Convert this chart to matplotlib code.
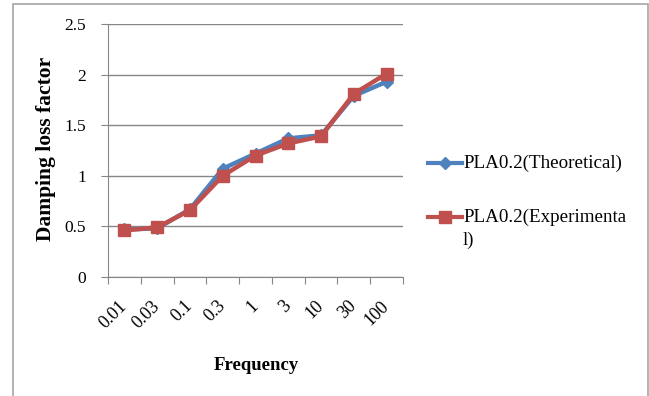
import matplotlib.pyplot as plt
from matplotlib.lines import Line2D
from matplotlib.patches import Rectangle
import numpy as np

plt.rcParams['font.family'] = ['Liberation Serif', 'DejaVu Serif']

# data
freq = ['0.01', '0.03', '0.1', '0.3', '1', '3', '10', '30', '100']
theoretical = [0.47, 0.48, 0.67, 1.07, 1.22, 1.37, 1.40, 1.79, 1.93]
experimental = [0.46, 0.49, 0.66, 1.00, 1.20, 1.32, 1.39, 1.81, 2.01]

blue = '#4F81BD'
red = '#C0504D'
grid_c = '#868686'

W, H = 649, 396
fig = plt.figure(figsize=(W / 100, H / 100), dpi=100)
ax = fig.add_axes([108 / W, 1 - 277 / H, 295 / W, 253 / H])

x = np.arange(len(freq))
ax.plot(x, theoretical, color=blue, lw=3.2, marker='D', ms=6,
        mfc=blue, mec=blue, zorder=3)
ax.plot(x, experimental, color=red, lw=3.2, marker='s', ms=8,
        mfc=red, mec=red, zorder=4)

ax.set_xlim(-0.5, len(freq) - 0.5)
ax.set_ylim(0, 2.5)
ax.set_yticks(np.arange(0, 2.51, 0.5))
ax.set_yticklabels(['0', '0.5', '1', '1.5', '2', '2.5'])
ax.yaxis.grid(True, color=grid_c, lw=1)
ax.set_axisbelow(True)

# category boundaries as ticks, labels at centers
ax.set_xticks(np.arange(-0.5, len(freq)), labels=[''] * (len(freq) + 1))
ax.set_xticks(x, labels=freq, minor=True)
ax.tick_params(axis='x', which='major', length=5, color=grid_c, direction='out')
ax.tick_params(axis='x', which='minor', length=0, pad=19, labelsize=13)
ax.tick_params(axis='y', length=5, color=grid_c, pad=11, labelsize=12.5)
for lab in ax.get_xticklabels(minor=True):
    lab.set_rotation(45)
    lab.set_ha('right')
    lab.set_va('center')
    lab.set_rotation_mode('anchor')

for s in ['top', 'right']:
    ax.spines[s].set_visible(False)
for s in ['left', 'bottom']:
    ax.spines[s].set_color(grid_c)

ax.set_xlabel('Frequency', fontsize=13.5, fontweight='bold')
ax.xaxis.set_label_coords(0.502, -0.348)
ax.xaxis.label.set_va('center')
ax.set_ylabel('Damping loss factor', fontsize=15.5, fontweight='bold')
ax.yaxis.set_label_coords(-0.21, 0.506)
ax.yaxis.label.set_va('center')

# legend drawn by hand to copy the wrapped label
def legend_entry(y, color, marker, ms):
    fy = 1 - y / H
    fig.add_artist(Line2D([428 / W, 462 / W], [fy, fy], color=color, lw=3,
                          transform=fig.transFigure))
    fig.add_artist(Line2D([445 / W], [fy], color=color, marker=marker, ms=ms,
                          transform=fig.transFigure))

legend_entry(163, blue, 'D', 6)
fig.text(463 / W, 1 - 163 / H, 'PLA0.2(Theoretical)', fontsize=13.7, va='center')
legend_entry(217, red, 's', 8)
fig.text(463 / W, 1 - 217 / H, 'PLA0.2(Experimenta', fontsize=13.7, va='center')
fig.text(463 / W, 1 - 240 / H, 'l)', fontsize=13.7, va='center')

# chart border
fig.add_artist(Rectangle((12.5 / W, -0.2), 635.5 / W, 1.2 - 3.5 / H, fill=False,
                         edgecolor='#a6a6a6', lw=1.2, transform=fig.transFigure))

fig.savefig('out.png', dpi=100)
